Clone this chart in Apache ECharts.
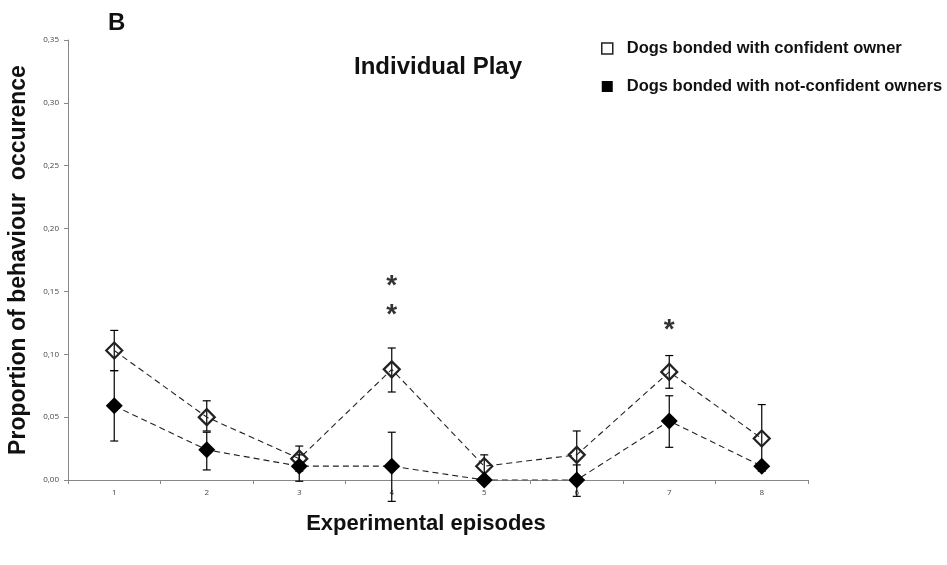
<!DOCTYPE html>
<html>
<head>
<meta charset="utf-8">
<script src="https://cdn.jsdelivr.net/npm/echarts@6/dist/echarts.min.js"></script>
<style>
  html, body { margin: 0; padding: 0; background: #fff; }
  #chart { width: 947px; height: 565px; }
</style>
</head>
<body>
<div id="chart"></div>
<script>
// Episodes and mean proportions of individual play
const episodes = ['1', '2', '3', '4', '5', '6', '7', '8'];
const confident = [0.103, 0.050, 0.017, 0.088, 0.011, 0.020, 0.086, 0.033];
const confidentLow = [0.087, 0.039, 0.007, 0.070, 0.002, 0.001, 0.073, 0.007];
const confidentHigh = [0.119, 0.063, 0.027, 0.105, 0.020, 0.039, 0.099, 0.060];
const notConfident = [0.059, 0.024, 0.011, 0.011, 0.000, 0.000, 0.047, 0.011];
const notConfidentLow = [0.031, 0.008, -0.001, -0.017, 0.000, -0.013, 0.026, 0.011];
const notConfidentHigh = [0.087, 0.038, 0.020, 0.038, 0.000, 0.012, 0.067, 0.011];
// Significance markers: [episode index, height]
const stars = [[3, 0.157], [3, 0.134], [6, 0.122]];
const yTicks = ['0,00', '0,05', '0,10', '0,15', '0,20', '0,25', '0,30', '0,35'];

const legendNames = ['Dogs bonded with confident owner', 'Dogs bonded with not-confident owners'];

function errorData(low, high) {
  return low.map((l, i) => [i, l, high[i]]);
}

function renderError(params, api) {
  const x = api.value(0);
  const lo = api.coord([x, api.value(1)]);
  const hi = api.coord([x, api.value(2)]);
  const cap = 4;
  const style = { stroke: '#000', lineWidth: 1.2 };
  return {
    type: 'group',
    children: [
      { type: 'line', shape: { x1: lo[0], y1: lo[1], x2: hi[0], y2: hi[1] }, style },
      { type: 'line', shape: { x1: hi[0] - cap, y1: hi[1], x2: hi[0] + cap, y2: hi[1] }, style },
      { type: 'line', shape: { x1: lo[0] - cap, y1: lo[1], x2: lo[0] + cap, y2: lo[1] }, style }
    ]
  };
}

const chart = echarts.init(document.getElementById('chart'));
chart.setOption({
  animation: false,
  backgroundColor: '#fff',
  title: [
    {
      text: 'B', left: 103, top: 6,
      textStyle: { fontFamily: 'Liberation Sans', fontWeight: 'bold', fontSize: 24, color: '#111' }
    },
    {
      text: 'Individual Play', left: 433, top: 50, textAlign: 'center',
      textStyle: { fontFamily: 'Liberation Sans', fontWeight: 'bold', fontSize: 24, color: '#111' }
    }
  ],
  legend: {
    orient: 'vertical',
    left: 596, top: 35,
    itemGap: 21,
    itemWidth: 11, itemHeight: 11,
    icon: 'rect',
    selectedMode: false,
    textStyle: { fontFamily: 'Liberation Sans', fontWeight: 'bold', fontSize: 16.5, color: '#111', padding: [0, 0, 0, 9] },
    data: [
      { name: legendNames[0], itemStyle: { color: '#fff', borderColor: '#222', borderWidth: 1.5 } },
      { name: legendNames[1], itemStyle: { color: '#000', borderWidth: 0 } }
    ]
  },
  grid: { left: 68, right: 139, top: 40, bottom: 85, containLabel: false, outerBoundsMode: 'none' },
  xAxis: {
    type: 'category',
    data: episodes,
    boundaryGap: true,
    name: 'Experimental episodes',
    nameLocation: 'middle',
    nameGap: 33,
    nameTextStyle: { fontFamily: 'Liberation Sans', fontWeight: 'bold', fontSize: 22, color: '#111', padding: [0, 24, 0, 0] },
    axisLine: { lineStyle: { color: '#888', width: 1 } },
    axisTick: { show: true, length: 4, lineStyle: { color: '#888' } },
    axisLabel: { fontFamily: 'Open Sans', fontSize: 8, color: '#444', margin: 9 },
    splitLine: { show: false }
  },
  yAxis: {
    type: 'value',
    min: 0, max: 0.35, interval: 0.05,
    name: 'Proportion of behaviour  occurence',
    nameLocation: 'middle',
    nameGap: 38,
    nameRotate: 90,
    nameTextStyle: { fontFamily: 'Liberation Sans', fontWeight: 'bold', fontSize: 23, color: '#111' },
    axisLine: { show: true, lineStyle: { color: '#888', width: 1 } },
    axisTick: { show: true, length: 4, lineStyle: { color: '#888' } },
    axisLabel: {
      fontFamily: 'Open Sans', fontSize: 8, color: '#444', margin: 9,
      formatter: (v) => yTicks[Math.round(v / 0.05)]
    },
    splitLine: { show: false }
  },
  series: [
    {
      type: 'custom',
      renderItem: renderError,
      data: errorData(confidentLow, confidentHigh),
      z: 1, silent: true
    },
    {
      type: 'custom',
      renderItem: renderError,
      data: errorData(notConfidentLow, notConfidentHigh),
      z: 1, silent: true
    },
    {
      name: legendNames[0],
      type: 'line',
      data: confident,
      symbol: 'diamond',
      symbolSize: 16,
      lineStyle: { color: '#222', width: 1.1, type: [6, 4] },
      itemStyle: { color: 'rgba(255,255,255,0)', borderColor: '#222', borderWidth: 2.2 },
      z: 3
    },
    {
      name: legendNames[1],
      type: 'line',
      data: notConfident,
      symbol: 'diamond',
      symbolSize: 17,
      lineStyle: { color: '#222', width: 1.1, type: [6, 4] },
      itemStyle: { color: '#000', borderWidth: 0 },
      z: 4
    },
    {
      type: 'scatter',
      data: stars,
      symbolSize: 0,
      silent: true,
      label: {
        show: true, position: 'inside', formatter: '*',
        fontFamily: 'Liberation Sans', fontWeight: 'bold', fontSize: 28, color: '#000',
        offset: [0, 4]
      },
      z: 5
    }
  ]
});
</script>
</body>
</html>
